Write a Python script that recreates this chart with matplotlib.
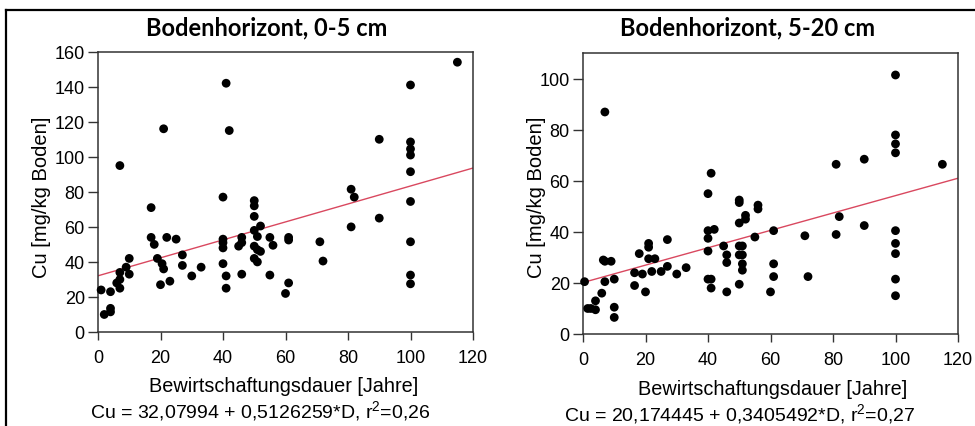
import matplotlib
matplotlib.use("Agg")
import matplotlib.pyplot as plt
from matplotlib.lines import Line2D
import numpy as np

# ---------------- data ----------------
titles = ["Bodenhorizont, 0-5 cm", "Bodenhorizont, 5-20 cm"]
x_label = "Bewirtschaftungsdauer [Jahre]"
y_label = "Cu [mg/kg Boden]"
equations = ["Cu = 32,07994 + 0,5126259*D, r$^{2}$=0,26",
             "Cu = 20,174445 + 0,3405492*D, r$^{2}$=0,27"]
intercepts = [32.07994, 20.174445]
slopes = [0.5126259, 0.3405492]

left_D = [1, 2, 4, 4, 4, 6, 7, 7, 7, 7, 9, 10, 10,
          17, 17, 18, 19, 21, 20.5, 21, 20, 22, 23, 25, 27, 27, 30, 33,
          40, 40, 40, 40, 40, 41, 41, 41, 42, 45, 46, 46, 46,
          50, 50, 50, 50, 52, 51, 50, 51, 52, 50, 51, 55, 56, 55,
          61, 61, 60, 61, 71, 72,
          81, 82, 81, 90, 90, 100, 100, 100, 100, 100, 100, 100, 100, 100, 115]
left_Cu = [24, 10, 13.5, 11.5, 23, 28, 25, 30, 34, 95, 37, 42, 33,
           71, 54, 50, 42, 116, 39, 36, 27, 54, 29, 53, 44, 38, 32, 37,
           77, 53, 51, 48, 39, 32, 25, 142, 115, 49, 54, 51, 33,
           75, 72, 66, 58, 60.5, 54.5, 49, 47, 46, 42, 40, 54, 49.5, 32.5,
           54, 52.5, 22, 28, 51.5, 40.5,
           81.5, 77, 60, 110, 65, 141, 108.5, 104.5, 101, 91.5, 74.5, 51.5, 32.5, 27.5, 154]

right_D = [0.5, 1.5, 2.5, 4, 4, 6, 7, 6.5, 7, 9, 7, 10, 10, 10,
           16.5, 16.5, 18, 19, 20, 21, 21, 21, 22, 23, 25, 27, 27, 30, 33,
           40, 41, 40, 42, 40, 40, 40, 41, 41, 45, 46, 46, 46,
           50, 50, 52, 52, 50, 50, 51, 50, 51, 51, 51, 50, 56, 56, 55,
           61, 61, 61, 60, 71, 72, 81, 82, 81, 90, 90,
           100, 100, 100, 100, 100, 100, 100, 100, 100, 115]
right_Cu = [20.5, 10, 10, 13, 9.5, 16, 20.5, 29, 28.5, 28.5, 87, 21.5, 10.5, 6.5,
            19, 24, 31.5, 23.5, 16.5, 35.5, 34, 29.5, 24.5, 29.5, 24.5, 37, 26.5, 23.5, 26,
            55, 63, 40.5, 41, 37.5, 32.5, 21.5, 21.5, 18, 34.5, 31, 28, 16.5,
            52.5, 51.5, 46.5, 45, 43.5, 34.5, 34.5, 31, 31, 27.5, 25, 19.5, 50.5, 49, 38,
            40.5, 27.5, 22.5, 16.5, 38.5, 22.5, 66.5, 46, 39, 68.5, 42.5,
            101.5, 78, 74.5, 71, 40.5, 35.5, 31.5, 21.5, 15, 66.5]

y_limits = [(0, 160), (0, 110)]
y_ticks = [np.arange(0, 161, 20), np.arange(0, 101, 20)]
x_ticks = np.arange(0, 121, 20)

# ---------------- layout ----------------
W, H = 975, 427
font = "Liberation Sans"
plt.rcParams["font.family"] = [font, "DejaVu Sans"]
plt.rcParams["mathtext.fontset"] = "custom"
plt.rcParams["mathtext.rm"] = font
plt.rcParams["mathtext.it"] = font
fig = plt.figure(figsize=(W / 100, H / 100), dpi=100)

def fx(px):
    return px / W

def fy(py):
    return 1 - py / H

axes_px = [(98, 52.7, 473, 333), (583, 54.3, 958, 335)]
title_pos = [(267, 28), (748, 28)]
xlabel_pos = [(284, 387), (773, 390)]
eq_pos = [(260, 411), (740, 414)]
ylabel_pos = [(42, 197), (537, 197)]

datasets = [(left_D, left_Cu), (right_D, right_Cu)]
spine_col = "#333333"

for i in range(2):
    x0, y0, x1, y1 = axes_px[i]
    ax = fig.add_axes([fx(x0), fy(y1), (x1 - x0) / W, (y1 - y0) / H])
    D, Cu = datasets[i]
    ax.scatter(D, Cu, s=40, color="black", edgecolors="none", zorder=3, clip_on=False)
    xs = np.array([0, 120])
    ax.plot(xs, intercepts[i] + slopes[i] * xs, color="#d9485f", lw=1.0, zorder=2)
    ax.set_xlim(0, 120)
    ax.set_ylim(*y_limits[i])
    ax.set_xticks(x_ticks)
    ax.set_yticks(y_ticks[i])
    ax.tick_params(axis="x", direction="out", length=6, width=1.0, color=spine_col,
                   labelsize=13, pad=6.5)
    ax.tick_params(axis="y", direction="out", length=7.5, width=1.0, color=spine_col,
                   labelsize=13, pad=2)
    for sp in ax.spines.values():
        sp.set_color(spine_col)
        sp.set_linewidth(1.1)
    fig.text(fx(title_pos[i][0]), fy(title_pos[i][1]), titles[i], ha="center", va="center",
             fontsize=17, fontweight="bold", family=["Lato", "DejaVu Sans"])
    fig.text(fx(xlabel_pos[i][0]), fy(xlabel_pos[i][1]), x_label, ha="center", va="center",
             fontsize=14.3)
    fig.text(fx(eq_pos[i][0]), fy(eq_pos[i][1]), equations[i], ha="center", va="center",
             fontsize=14)
    fig.text(fx(ylabel_pos[i][0]), fy(ylabel_pos[i][1]), y_label, ha="center", va="center",
             fontsize=14.5, rotation=90)

# outer frame (top and left edges visible)
fig.add_artist(Line2D([fx(6), fx(6)], [0, fy(11)], color="black", lw=1.6))
fig.add_artist(Line2D([fx(6), 1], [fy(11), fy(11)], color="black", lw=1.6))

fig.savefig("out.png", dpi=100)
